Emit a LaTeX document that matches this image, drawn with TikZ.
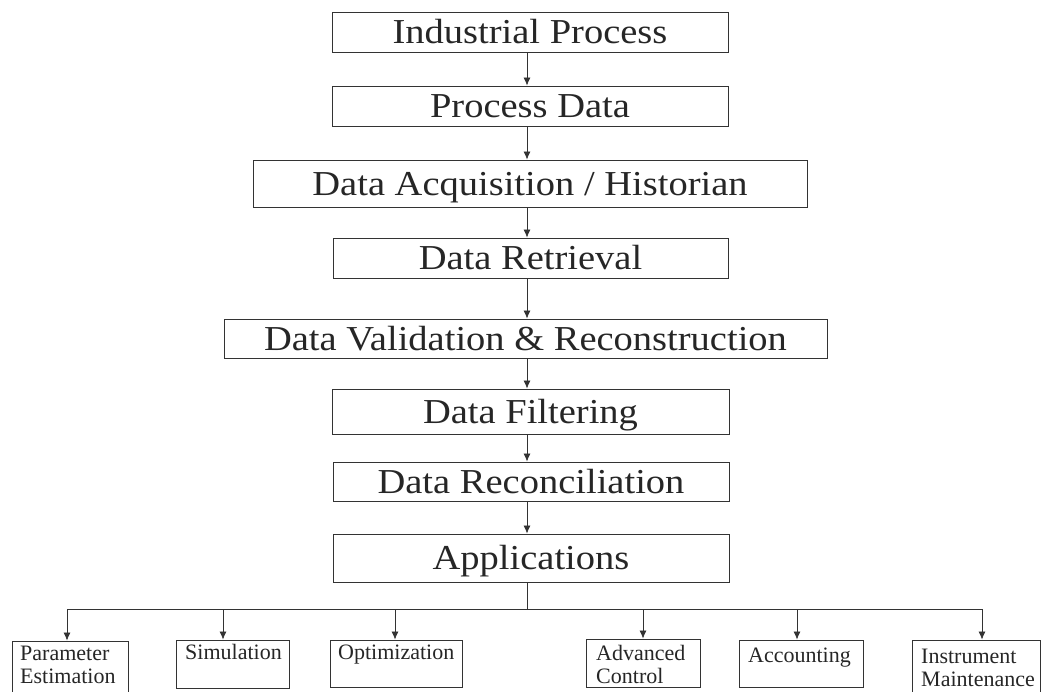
\documentclass[tikz,border=0pt]{standalone}
\usepackage{graphicx}
\usepackage{fontspec}
\setmainfont{Liberation Serif}
\usetikzlibrary{arrows.meta}
\newcommand{\widetext}[1]{\scalebox{1.1}[1]{#1}}
\begin{document}
\begin{tikzpicture}[x=1pt,y=-1pt,
  box/.style={draw=black!80, line width=0.9pt, inner sep=0pt, text height=23pt, text depth=0pt,
    text=black!85, font=\fontsize{35}{40}\selectfont},
  ln/.style={draw=black!80, line width=0.8pt},
  arr/.style={draw=black!80, line width=0.8pt, -{Latex[length=8pt,width=7pt]}},
  sbox/.style={draw=black!80, line width=0.9pt, inner sep=0pt},
  stxt/.style={font=\fontsize{22}{23}\selectfont, text=black!85, inner sep=0pt, anchor=base west, align=left}]
\clip (0,0) rectangle (1048,691);
\useasboundingbox (0,0) rectangle (1048,691);
\coordinate (spine) at (527,0);
% main chain
\node[box, minimum width=396pt, minimum height=40pt] (b1) at (530,32) {\widetext{Industrial Process}};
\node[box, minimum width=396pt, minimum height=40pt] (b2) at (530,106) {\widetext{Process Data}};
\node[box, minimum width=554pt, minimum height=47pt] (b3) at (530,183.5) {\widetext{Data Acquisition / Historian}};
\node[box, minimum width=395pt, minimum height=40pt] (b4) at (530.5,258) {\widetext{Data Retrieval}};
\node[box, minimum width=603pt, minimum height=39pt] (b5) at (525.5,338.5) {\widetext{Data Validation \& Reconstruction}};
\node[box, minimum width=397pt, minimum height=45pt] (b6) at (530.5,411.5) {\widetext{Data Filtering}};
\node[box, minimum width=396pt, minimum height=39pt] (b7) at (531,481.5) {\widetext{Data Reconciliation}};
\node[box, minimum width=396pt, minimum height=48pt] (b8) at (531,558) {\widetext{Applications}};
\foreach \a/\b in {b1/b2, b2/b3, b3/b4, b4/b5, b5/b6, b6/b7, b7/b8}
  \draw[arr] (\a.south -| spine) -- (\b.north -| spine);
% bottom boxes
\node[sbox, minimum width=116pt, minimum height=70pt] (pe) at (70,676) {};
\node[sbox, minimum width=113pt, minimum height=48pt] (sim) at (232.5,664) {};
\node[sbox, minimum width=132pt, minimum height=47pt] (opt) at (396,663.5) {};
\node[sbox, minimum width=114pt, minimum height=48pt] (adv) at (643,663) {};
\node[sbox, minimum width=124pt, minimum height=47pt] (acc) at (801,663.5) {};
\node[sbox, minimum width=128pt, minimum height=70pt] (ins) at (976,675) {};
\node[stxt] (tpe) at (20,683) {Parameter\\Estimation};
\node[stxt] (tsim) at (185,659) {Simulation};
\node[stxt] (topt) at (338,659) {Optimization};
\node[stxt] (tadv) at (596,683) {Advanced\\Control};
\node[stxt] (tacc) at (748,662) {Accounting};
\node[stxt] (tins) at (921,686) {Instrument\\Maintenance};
% distribution bus
\coordinate (busL) at (67,609);
\coordinate (busR) at (982,609);
\coordinate (c1) at (67,0);
\coordinate (c2) at (223,0);
\coordinate (c3) at (395,0);
\coordinate (c4) at (643,0);
\coordinate (c5) at (797,0);
\coordinate (c6) at (982,0);
\draw[ln] (b8.south -| spine) -- (spine |- busL);
\draw[ln] (busL) -- (busR);
\draw[arr] (c1 |- busL) -- (c1 |- pe.north);
\draw[arr] (c2 |- busL) -- (c2 |- sim.north);
\draw[arr] (c3 |- busL) -- (c3 |- opt.north);
\draw[arr] (c4 |- busL) -- (c4 |- adv.north);
\draw[arr] (c5 |- busL) -- (c5 |- acc.north);
\draw[arr] (c6 |- busL) -- (c6 |- ins.north);
\end{tikzpicture}
\end{document}
